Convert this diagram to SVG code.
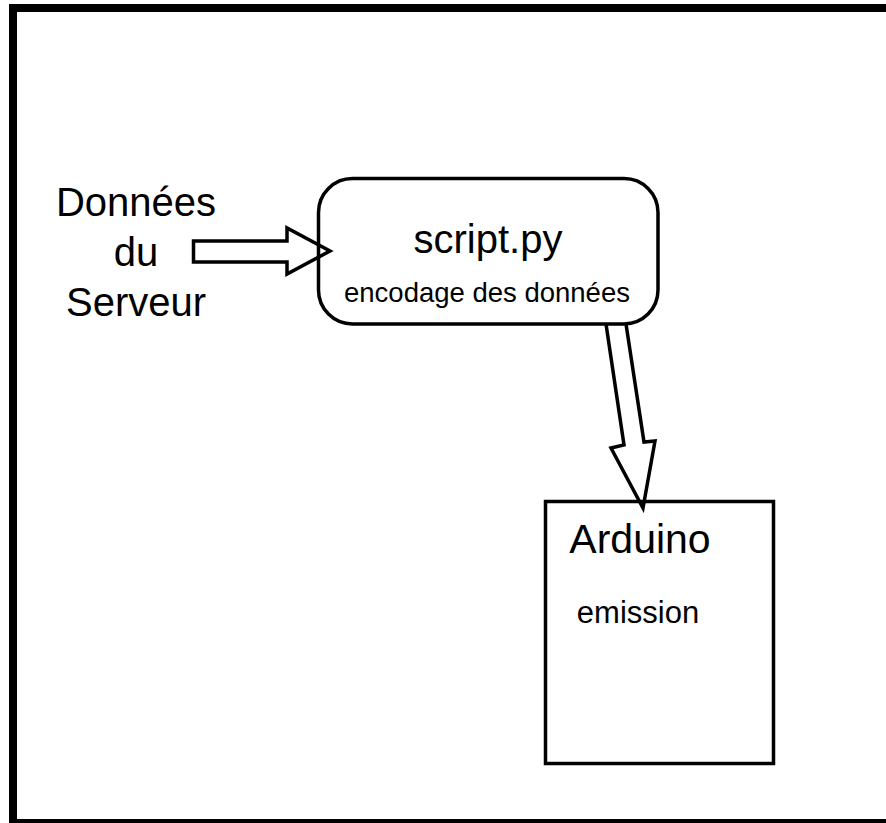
<svg xmlns="http://www.w3.org/2000/svg" width="886" height="823" viewBox="0 0 886 823">
<style>
text{font-family:"Liberation Sans",Arial,sans-serif;fill:#000;text-anchor:middle}
.node{fill:#fff;stroke:#000;stroke-width:3.5}
.arrow{fill:none;stroke:#000;stroke-width:3.5;stroke-linejoin:miter}
</style>
<rect x="0" y="0" width="886" height="823" fill="#fff"/>
<rect id="frame" x="13" y="8" width="900" height="815" fill="none" stroke="#000" stroke-width="8"/>
<g id="source">
<text x="136" y="216" font-size="40">Données</text>
<text x="136" y="266" font-size="40">du</text>
<text x="136" y="316" font-size="40">Serveur</text>
</g>
<g id="script">
<rect class="node" x="318.5" y="178.5" width="339.5" height="145.5" rx="34" ry="34"/>
<text x="488" y="253" font-size="40">script.py</text>
<text x="487" y="302" font-size="27.5">encodage des données</text>
</g>
<g id="arduino">
<rect class="node" x="545.5" y="501.5" width="228" height="262"/>
<text x="640" y="553" font-size="41">Arduino</text>
<text x="638" y="623" font-size="31">emission</text>
</g>
<g id="connectors">
<polygon class="arrow" points="193.5,241 287,241 287,228 330,251 287,274 287,262 193.5,262"/>
<polyline class="arrow" points="606,324 624,445 611,448 643,508 655,441 644,442 626,324"/>
</g>
</svg>
